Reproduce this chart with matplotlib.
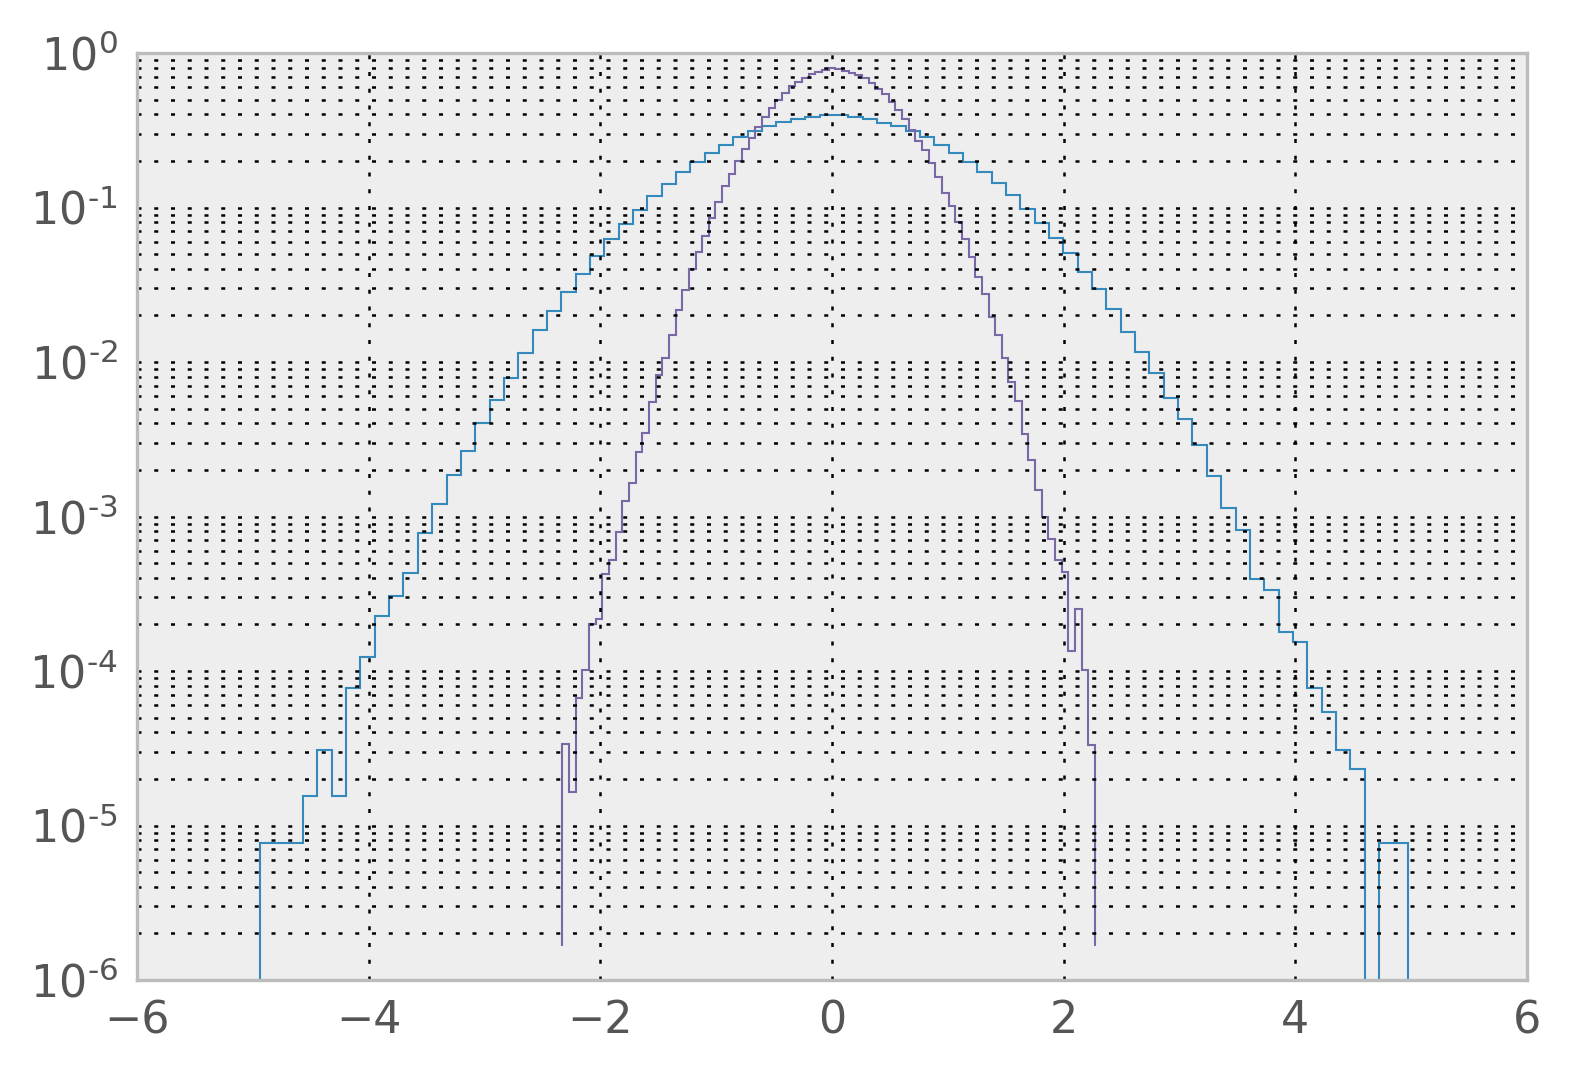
import numpy as np
import matplotlib
matplotlib.use('Agg')
import matplotlib.pyplot as plt
from matplotlib.ticker import FuncFormatter, NullFormatter, LogLocator

# bin edges of the two histograms (80 bins each)
wide_lo, wide_hi = -4.938, 4.970
narrow_lo, narrow_hi = -2.328, 2.271

# normalised bin heights
wide = [7.7e-6, 7.7e-6, 7.7e-6, 1.55e-5, 3.1e-5, 1.55e-5, 7.8e-5, 1.24e-4, 2.27e-4, 3.06e-4,
        4.29e-4, 7.85e-4, 1.2e-3, 1.86e-3, 2.65e-3, 4.05e-3, 5.68e-3, 7.87e-3, 1.14e-2, 1.6e-2,
        2.15e-2, 2.85e-2, 3.71e-2, 4.83e-2, 6.22e-2, 7.82e-2, 9.68e-2, 0.1187, 0.141, 0.169,
        0.197, 0.225, 0.255, 0.285, 0.311, 0.337, 0.357, 0.376, 0.387, 0.395,
        0.395, 0.387, 0.372, 0.354, 0.337, 0.311, 0.285, 0.255, 0.225, 0.198,
        0.170, 0.1435, 0.12, 0.0983, 0.079, 0.0638, 0.0505, 0.0383, 0.0295, 0.0219,
        0.0156, 0.01155, 8.53e-3, 5.87e-3, 4.27e-3, 2.89e-3, 1.82e-3, 1.135e-3, 8.18e-4, 3.96e-4,
        3.36e-4, 1.78e-4, 1.55e-4, 7.73e-5, 5.43e-5, 3.1e-5, 2.32e-5, 0, 7.7e-6, 7.7e-6]

narrow = [3.35e-5, 1.65e-5, 6.7e-5, 1.01e-4, 2.01e-4, 2.18e-4, 4.22e-4, 5.22e-4, 7.94e-4, 1.264e-3,
          1.636e-3, 2.6e-3, 3.49e-3, 5.48e-3, 8.25e-3, 0.01066, 0.01496, 0.0217, 0.0292, 0.0398,
          0.0513, 0.0655, 0.0859, 0.108, 0.138, 0.165, 0.201, 0.239, 0.283, 0.330,
          0.387, 0.438, 0.496, 0.553, 0.611, 0.652, 0.692, 0.731, 0.757, 0.776,
          0.795, 0.785, 0.769, 0.746, 0.72, 0.686, 0.637, 0.582, 0.541, 0.484,
          0.428, 0.372, 0.318, 0.271, 0.236, 0.193, 0.158, 0.125, 0.102, 0.081,
          0.063, 0.048, 0.0357, 0.0274, 0.0196, 0.01496, 0.01056, 7.46e-3, 5.62e-3, 3.42e-3,
          2.32e-3, 1.485e-3, 9.98e-4, 7.12e-4, 5.23e-4, 4.39e-4, 1.355e-4, 2.52e-4, 1.01e-4, 3.33e-5]

xticks = [-6, -4, -2, 0, 2, 4, 6]
yticks = [1e-6, 1e-5, 1e-4, 1e-3, 1e-2, 1e-1, 1e0]

plt.rcParams['font.family'] = ['DejaVu Sans']
plt.rcParams['font.size'] = 16

fig = plt.figure(figsize=(7.86, 5.405), dpi=200)
ax = fig.add_axes([0.08715, 0.09343, 0.88422, 0.85754])
ax.set_facecolor('#eeeeee')

for vals, lo, hi, col in [(wide, wide_lo, wide_hi, '#348ABD'),
                          (narrow, narrow_lo, narrow_hi, '#7A68A6')]:
    v = np.array(vals)
    edges = np.linspace(lo, hi, len(v) + 1)
    base = v[v > 0].min() / 10.0
    ax.stairs(v, edges, baseline=base, color=col, lw=0.75)

ax.set_yscale('log', nonpositive='clip')
ax.set_xlim(-6, 6)
ax.set_ylim(1e-6, 1)
ax.set_xticks(xticks)
ax.set_yticks(yticks)
ax.yaxis.set_minor_locator(LogLocator(base=10, subs=np.arange(2, 10)))

def fmt(v, pos):
    e = int(round(np.log10(v)))
    if e < 0:
        return r'$\mathdefault{10^{\text{-}%d}}$' % (-e)
    return r'$\mathdefault{10^{%d}}$' % e

ax.yaxis.set_major_formatter(FuncFormatter(fmt))
ax.yaxis.set_minor_formatter(NullFormatter())

grid_kw = dict(color='black', lw=0.9, linestyle=(0, (1.6, 5.1)))
ax.grid(True, which='major', axis='x', **grid_kw)
ax.grid(True, which='both', axis='y', **grid_kw)

ax.tick_params(which='both', length=0, colors='#555555', labelsize=16, pad=7)
for s in ax.spines.values():
    s.set_color('#bcbcbc')
    s.set_linewidth(1.2)

fig.savefig('out.png', dpi=200)
